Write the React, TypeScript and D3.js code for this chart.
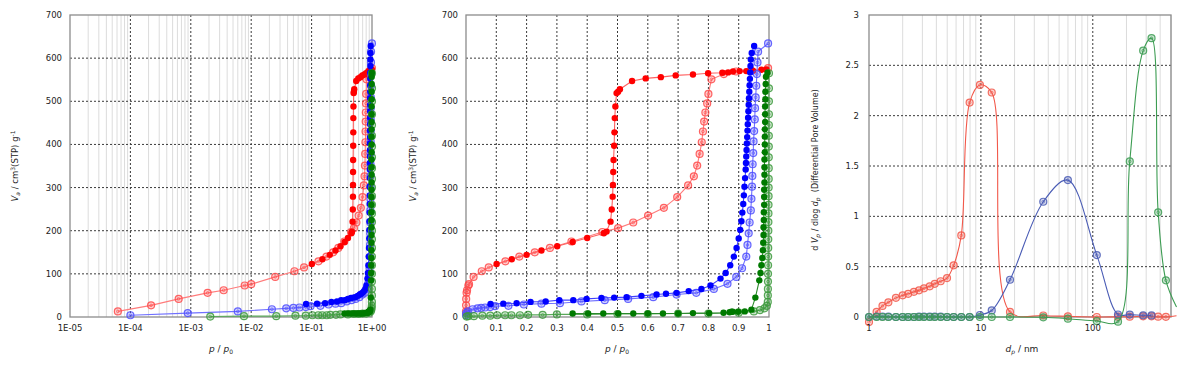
import * as d3 from "d3";

// ---- isotherms: relative pressure p/p0 and adsorbed amount Va (cm3(STP)/g) ----
// red sample, adsorption (open) and desorption (filled)
const redAdsP = [6.2e-5, 2.2e-4, 6.3e-4, 1.9e-3, 3.5e-3, 7.8e-3, 0.01, 0.025, 0.052, 0.075, 0.13, 0.176, 0.227, 0.277, 0.348, 0.45, 0.502, 0.552, 0.601, 0.653, 0.697, 0.733, 0.752, 0.763, 0.771, 0.778, 0.782, 0.786, 0.79, 0.796, 0.8, 0.81, 0.851, 0.892, 0.94, 0.997];
const redAdsV = [13, 27, 42, 56, 62, 73, 76, 93, 106, 115, 129, 140, 150, 160, 175, 197, 206, 219, 235, 253, 278, 305, 326, 351, 378, 405, 430, 453, 474, 495, 517, 551, 563, 569, 571, 577];
const redDesP = [0.991, 0.975, 0.947, 0.925, 0.903, 0.881, 0.865, 0.846, 0.799, 0.749, 0.692, 0.643, 0.593, 0.548, 0.508, 0.502, 0.497, 0.493, 0.491, 0.49, 0.489, 0.487, 0.486, 0.485, 0.484, 0.481, 0.477, 0.464, 0.455, 0.4, 0.352, 0.301, 0.249, 0.2, 0.151, 0.101];
const redDesV = [574, 573, 571, 570, 570, 569, 567, 566, 565, 562, 560, 556, 553, 547, 528, 522, 519, 488, 461, 428, 397, 364, 336, 306, 279, 249, 221, 198, 194, 183, 174, 164, 154, 144, 134, 123];

// blue sample
const blueAdsP = [1e-4, 8.9e-4, 6e-3, 0.022, 0.038, 0.05, 0.063, 0.08, 0.096, 0.14, 0.191, 0.249, 0.31, 0.381, 0.458, 0.535, 0.618, 0.695, 0.76, 0.818, 0.863, 0.892, 0.911, 0.925, 0.929, 0.933, 0.936, 0.94, 0.942, 0.944, 0.945, 0.946, 0.948, 0.949, 0.951, 0.953, 0.954, 0.956, 0.958, 0.96, 0.962, 0.964, 0.997];
const blueAdsV = [4, 9, 13, 18, 20, 21, 22, 23, 25, 26, 29, 31, 32, 36, 39, 42, 46, 52, 56, 65, 77, 93, 113, 140, 167, 194, 219, 247, 274, 302, 327, 354, 380, 407, 431, 458, 484, 509, 536, 563, 590, 615, 634];
const blueDesP = [0.951, 0.943, 0.94, 0.939, 0.938, 0.937, 0.936, 0.935, 0.934, 0.933, 0.932, 0.931, 0.93, 0.929, 0.928, 0.927, 0.926, 0.925, 0.924, 0.923, 0.921, 0.919, 0.917, 0.915, 0.912, 0.909, 0.905, 0.9, 0.893, 0.884, 0.872, 0.857, 0.84, 0.807, 0.777, 0.735, 0.695, 0.66, 0.629, 0.579, 0.53, 0.489, 0.447, 0.398, 0.354, 0.308, 0.263, 0.213, 0.167, 0.123, 0.081];
const blueDesV = [628, 612, 597, 582, 567, 552, 537, 522, 507, 492, 477, 462, 447, 432, 417, 402, 387, 372, 357, 342, 322, 302, 282, 262, 242, 222, 202, 182, 160, 140, 120, 102, 89, 73, 65, 60, 56, 54, 52, 49, 46, 45, 44, 42, 39, 39, 36, 35, 32, 31, 30];

// green sample
const greenAdsP = [2.1e-3, 7.6e-3, 0.026, 0.054, 0.08, 0.103, 0.129, 0.15, 0.178, 0.205, 0.253, 0.3, 0.4, 0.5, 0.6, 0.7, 0.8, 0.9, 0.95, 0.97, 0.985, 0.993, 0.996, 0.9962, 0.9964, 0.9966, 0.9968, 0.997, 0.9972, 0.9974, 0.9976, 0.9978, 0.998, 0.9982, 0.9984, 0.9986, 0.9988, 0.999, 0.9991, 0.9992, 0.9993, 0.9994, 0.9995, 0.9996, 0.9997, 0.9998, 0.9999];
const greenAdsV = [1, 2, 2, 3, 3, 4, 4, 4, 4, 5, 5, 6, 6, 7, 7, 8, 8, 10, 13, 16, 20, 26, 35, 50, 65, 82, 100, 120, 140, 160, 180, 200, 220, 240, 260, 280, 300, 320, 345, 370, 395, 420, 445, 470, 500, 530, 565];
const greenDesP = [0.995, 0.99, 0.989, 0.988, 0.988, 0.987, 0.987, 0.987, 0.986, 0.986, 0.986, 0.986, 0.985, 0.985, 0.985, 0.985, 0.984, 0.984, 0.984, 0.983, 0.983, 0.982, 0.982, 0.981, 0.98, 0.978, 0.975, 0.972, 0.968, 0.955, 0.942, 0.92, 0.898, 0.88, 0.876, 0.87, 0.85, 0.802, 0.749, 0.7, 0.65, 0.6, 0.552, 0.502, 0.453, 0.403, 0.352];
const greenDesV = [566, 557, 540, 522, 505, 488, 470, 452, 435, 418, 400, 382, 365, 347, 330, 312, 295, 278, 260, 243, 225, 208, 190, 172, 155, 137, 120, 102, 85, 45, 17, 13, 12, 12, 12, 11, 10, 9, 9, 8, 8, 8, 8, 8, 8, 8, 8];

// ---- pore size distribution: dp (nm) and dVp/dlog dp ----
const psdD = [1.0, 1.17, 1.32, 1.49, 1.74, 2.0, 2.24, 2.52, 2.8, 3.1, 3.49, 3.87, 4.37, 4.98, 5.71, 6.68, 7.93, 9.8, 12.5, 18.2, 36.1, 59.9, 108.6, 168, 214, 282, 335, 384, 450, 560];
const psdRed = [-0.05, 0.05, 0.11, 0.146, 0.19, 0.215, 0.23, 0.25, 0.265, 0.285, 0.305, 0.33, 0.355, 0.387, 0.513, 0.81, 2.13, 2.305, 2.23, 0.05, 0.015, 0.007, 0.0, 0.003, 0.003, 0.007, 0.007, 0.003, 0.002, 0.012];
const psdBlue = [0, 0.005, 0.005, 0.003, 0, 0, 0, 0, 0.003, 0.003, 0.003, 0.003, 0.003, 0, 0, 0, 0, 0.02, 0.065, 0.37, 1.145, 1.36, 0.615, 0.025, 0.024, 0.017, 0.016];
const psdGreen = [0, 0, 0, 0, 0, 0, 0, 0, 0, 0, 0, 0, 0, 0, 0, 0, 0, 0, 0, 0, -0.003, -0.017, -0.04, -0.046, 1.545, 2.646, 2.77, 1.04, 0.364, 0.1];

const isoYTicks = [0, 100, 200, 300, 400, 500, 600, 700];
const linXTicks = [0, 0.1, 0.2, 0.3, 0.4, 0.5, 0.6, 0.7, 0.8, 0.9, 1];
const logXTicks = [1e-5, 1e-4, 1e-3, 1e-2, 1e-1, 1];
const psdXTicks = [1, 10, 100];
const psdYTicks = [0, 0.5, 1, 1.5, 2, 2.5, 3];

const FONT = "'DejaVu Sans', Verdana, sans-serif";
const TOP = 15;
const BOTTOM = 317;
const GRID = "#3a3a3a";
const MINOR = "#dcdcdc";
const FRAME = "#8c8c8c";

const yIso = d3.scaleLinear().domain([0, 700]).range([BOTTOM, TOP]);
const yPsd = d3.scaleLinear().domain([0, 3]).range([BOTTOM, TOP]);
const xLog = d3.scaleLog().domain([1e-5, 1]).range([70, 372]);
const xLin = d3.scaleLinear().domain([0, 1]).range([466, 769]);
const xPsd = d3.scaleLog().domain([1, 500]).range([869, 1171]);

type Series = { xs: number[]; ys: number[]; color: string; line: string; filled: boolean };

const isoSeries: Series[] = [
  { xs: redAdsP, ys: redAdsV, color: "#ff4a4a", line: "#ff7b7b", filled: false },
  { xs: redDesP, ys: redDesV, color: "#ff0000", line: "#ff6060", filled: true },
  { xs: blueAdsP, ys: blueAdsV, color: "#4d4dff", line: "#7070ff", filled: false },
  { xs: blueDesP, ys: blueDesV, color: "#0000ff", line: "#4040ff", filled: true },
  { xs: greenAdsP, ys: greenAdsV, color: "#3d9a3d", line: "#5aa85a", filled: false },
  { xs: greenDesP, ys: greenDesV, color: "#007a00", line: "#2a8a2a", filled: true },
];

const psdSeries = [
  { ys: psdRed, color: "#f2584a" },
  { ys: psdBlue, color: "#4a5cb5" },
  { ys: psdGreen, color: "#3c9c52" },
];

function Marker({ cx, cy, color, filled }: { cx: number; cy: number; color: string; filled: boolean }) {
  if (filled) return <circle cx={cx} cy={cy} r={3.2} fill={color} />;
  return (
    <g>
      <circle cx={cx} cy={cy} r={3.5} fill={color} fillOpacity={0.25} stroke={color} strokeOpacity={0.85} strokeWidth={1.2} />
      <circle cx={cx} cy={cy} r={1.3} fill="none" stroke={color} strokeOpacity={0.8} strokeWidth={0.8} />
    </g>
  );
}

function YTitleIso({ x }: { x: number }) {
  return (
    <text transform={`translate(${x},166) rotate(-90)`} textAnchor="middle" fontSize={8.5} fontFamily={FONT} fill="#222">
      <tspan fontStyle="italic">V</tspan>
      <tspan fontStyle="italic" fontSize={6} dy={2}>a</tspan>
      <tspan dy={-2}> / cm</tspan>
      <tspan fontSize={6} dy={-3}>3</tspan>
      <tspan dy={3}>(STP) g</tspan>
      <tspan fontSize={6} dy={-3}>-1</tspan>
    </text>
  );
}

function XTitleP({ cx }: { cx: number }) {
  return (
    <text x={cx} y={352} textAnchor="middle" fontSize={9} fontFamily={FONT} fill="#222">
      <tspan fontStyle="italic">p</tspan>
      <tspan> / </tspan>
      <tspan fontStyle="italic">p</tspan>
      <tspan fontSize={6} dy={2}>0</tspan>
    </text>
  );
}

function IsoPanel({ x, left, right, log }: { x: any; left: number; right: number; log: boolean }) {
  const line = d3.line<[number, number]>().x((d) => x(d[0])).y((d) => yIso(d[1]));
  const xTicks = log ? logXTicks : linXTicks;
  const minor = log ? (x.ticks() as number[]).filter((t) => Math.abs(Math.log10(t) - Math.round(Math.log10(t))) > 1e-6) : [];
  const fmt = (t: number) => {
    if (!log) return String(t);
    const e = Math.round(Math.log10(t));
    return `1E${e < 0 ? "-" : "+"}${String(Math.abs(e)).padStart(2, "0")}`;
  };
  return (
    <g>
      {minor.map((t) => (
        <line key={"m" + t} x1={x(t)} x2={x(t)} y1={TOP} y2={BOTTOM} stroke={MINOR} strokeWidth={1} />
      ))}
      {xTicks.slice(1, -1).map((t) => (
        <line key={"v" + t} x1={x(t)} x2={x(t)} y1={TOP} y2={BOTTOM} stroke={GRID} strokeWidth={1} strokeDasharray="2,2" />
      ))}
      {isoYTicks.slice(1, -1).map((t) => (
        <line key={"h" + t} x1={left} x2={right} y1={yIso(t)} y2={yIso(t)} stroke={GRID} strokeWidth={1} strokeDasharray="2,2" />
      ))}
      <rect x={left} y={TOP} width={right - left} height={BOTTOM - TOP} fill="none" stroke={FRAME} strokeWidth={1.3} />
      {isoSeries.map((s, i) => {
        const pts = s.xs.map((p, j) => [p, s.ys[j]] as [number, number]);
        return (
          <g key={i}>
            <path d={line(pts) || ""} fill="none" stroke={s.line} strokeWidth={1.1} />
            {pts.map((d, j) => (
              <Marker key={j} cx={x(d[0])} cy={yIso(d[1])} color={s.color} filled={s.filled} />
            ))}
          </g>
        );
      })}
      {isoYTicks.map((t) => (
        <text key={"yl" + t} x={left - 8} y={yIso(t)} dy="0.35em" textAnchor="end" fontSize={8.5} fontFamily={FONT} fill="#222">
          {t}
        </text>
      ))}
      {xTicks.map((t) => (
        <text key={"xl" + t} x={x(t)} y={331} textAnchor="middle" fontSize={8.5} fontFamily={FONT} fill="#222">
          {fmt(t)}
        </text>
      ))}
    </g>
  );
}

function PsdPanel() {
  const left = 869;
  const right = 1171;
  const minor = (xPsd.ticks() as number[]).filter((t) => Math.abs(Math.log10(t) - Math.round(Math.log10(t))) > 1e-6);
  const line = d3
    .line<[number, number]>()
    .x((d) => xPsd(d[0]))
    .y((d) => yPsd(d[1]))
    .curve(d3.curveCatmullRom.alpha(0.5));
  return (
    <g>
      <defs>
        <clipPath id="psd-clip">
          <rect x={left} y={0} width={1177 - left} height={367} />
        </clipPath>
      </defs>
      {minor.map((t) => (
        <line key={"m" + t} x1={xPsd(t)} x2={xPsd(t)} y1={TOP} y2={BOTTOM} stroke={MINOR} strokeWidth={1} />
      ))}
      {[10, 100].map((t) => (
        <line key={"v" + t} x1={xPsd(t)} x2={xPsd(t)} y1={TOP} y2={BOTTOM} stroke={GRID} strokeWidth={1} strokeDasharray="2,2" />
      ))}
      {psdYTicks.slice(1, -1).map((t) => (
        <line key={"h" + t} x1={left} x2={right} y1={yPsd(t)} y2={yPsd(t)} stroke={GRID} strokeWidth={1} strokeDasharray="2,2" />
      ))}
      <rect x={left} y={TOP} width={right - left} height={BOTTOM - TOP} fill="none" stroke={FRAME} strokeWidth={1.3} />
      {psdSeries.map((s, i) => {
        const pts = s.ys.map((v, j) => [psdD[j], v] as [number, number]);
        return (
          <g key={i}>
            <path d={line(pts) || ""} fill="none" stroke={s.color} strokeWidth={1.1} clipPath="url(#psd-clip)" />
            {pts
              .filter((d) => d[0] <= 500)
              .map((d, j) => (
                <Marker key={j} cx={xPsd(d[0])} cy={yPsd(d[1])} color={s.color} filled={false} />
              ))}
          </g>
        );
      })}
      {psdYTicks.map((t) => (
        <text key={"yl" + t} x={left - 10} y={yPsd(t)} dy="0.35em" textAnchor="end" fontSize={8.5} fontFamily={FONT} fill="#222">
          {t}
        </text>
      ))}
      {psdXTicks.map((t) => (
        <text key={"xl" + t} x={xPsd(t)} y={331} textAnchor="middle" fontSize={8.5} fontFamily={FONT} fill="#222">
          {t}
        </text>
      ))}
      <text transform="translate(818,170) rotate(-90)" textAnchor="middle" fontSize={8} fontFamily={FONT} fill="#222">
        <tspan>d </tspan>
        <tspan fontStyle="italic">V</tspan>
        <tspan fontStyle="italic" fontSize={6} dy={2}>p</tspan>
        <tspan dy={-2}> / dlog </tspan>
        <tspan fontStyle="italic">d</tspan>
        <tspan fontStyle="italic" fontSize={6} dy={2}>p</tspan>
        <tspan dy={-2}>{"\u00a0\u00a0(Differential Pore Volume)"}</tspan>
      </text>
      <text x={1022} y={352} textAnchor="middle" fontSize={9} fontFamily={FONT} fill="#222">
        <tspan fontStyle="italic">d</tspan>
        <tspan fontStyle="italic" fontSize={6} dy={2}>p</tspan>
        <tspan dy={-2}> / nm</tspan>
      </text>
    </g>
  );
}

export default function App() {
  return (
    <svg width={1200} height={367} style={{ position: "absolute", left: 0, top: 0, background: "#fff" }}>
      <rect width={1200} height={367} fill="#fff" />
      <IsoPanel x={xLog} left={70} right={372} log={true} />
      <YTitleIso x={18} />
      <XTitleP cx={221} />
      <IsoPanel x={xLin} left={466} right={769} log={false} />
      <YTitleIso x={416} />
      <XTitleP cx={617} />
      <PsdPanel />
    </svg>
  );
}
